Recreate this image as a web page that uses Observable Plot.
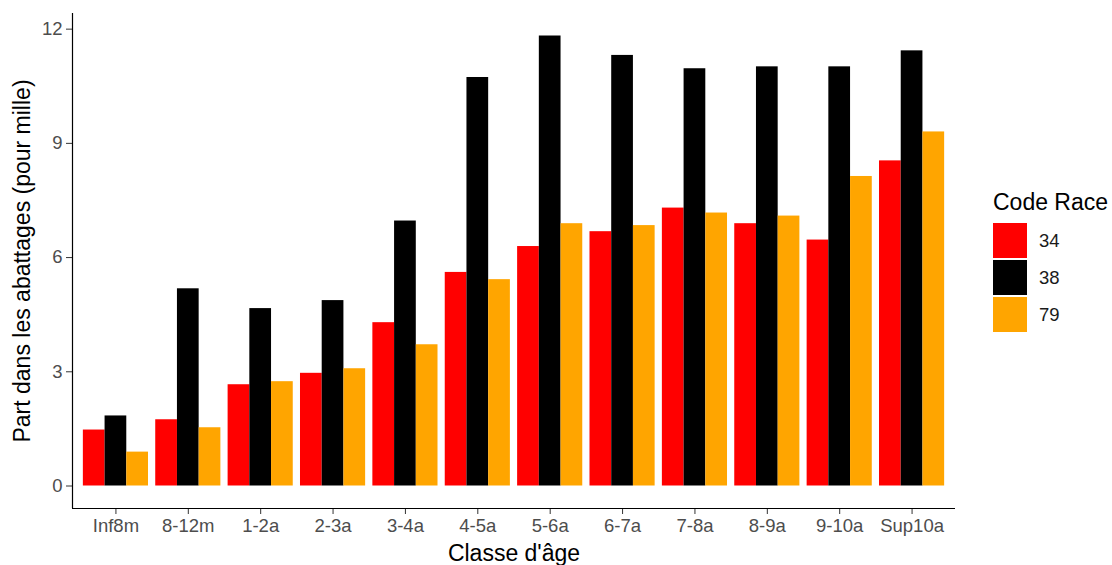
<!DOCTYPE html>
<html><head><meta charset="utf-8">
<script src="https://cdn.jsdelivr.net/npm/d3@7"></script>
<script src="https://cdn.jsdelivr.net/npm/@observablehq/plot@0.6"></script>
<style>
body{margin:0;background:#fff;font-family:"Liberation Sans",Arial,sans-serif;}
#wrap{position:relative;width:1112px;height:565px;overflow:hidden;}
#chart{position:absolute;left:0;top:0;}
#legend{position:absolute;left:993px;top:191px;}
#legend .title{font-size:23px;line-height:23px;color:#000;margin-bottom:8px;white-space:nowrap;}
#legend .row{display:flex;align-items:center;height:37px;}
#legend .sw{width:34px;height:35px;}
#legend .lab{font-size:18.5px;color:#1a1a1a;margin-left:12px;}
</style></head><body>
<div id="wrap"><div id="chart"></div><div id="legend"></div></div>
<script>
const categories = ["Inf8m","8-12m","1-2a","2-3a","3-4a","4-5a","5-6a","6-7a","7-8a","8-9a","9-10a","Sup10a"];
const races = ["34","38","79"];
const raceColors = ["#FF0000","#000000","#FFA500"];
const v34 = [1.47,1.74,2.66,2.96,4.29,5.61,6.29,6.68,7.30,6.89,6.46,8.54];
const v38 = [1.84,5.18,4.66,4.87,6.96,10.73,11.82,11.31,10.96,11.01,11.01,11.43];
const v79 = [0.89,1.53,2.74,3.08,3.71,5.42,6.89,6.84,7.17,7.09,8.13,9.30];
const yTicks = [0,3,6,9,12];
const xTitle = "Classe d'âge";
const yTitle = "Part dans les abattages (pour mille)";
const legendTitle = "Code Race";

const series = [v34, v38, v79];
const data = categories.flatMap((c, i) => races.map((r, k) => ({cat: c, i, race: r, k, value: series[k][i]})));
const font = "Liberation Sans, Arial, sans-serif";

const plot = Plot.plot({
  width: 960, height: 565,
  marginLeft: 72, marginRight: 5, marginTop: 13, marginBottom: 57,
  style: {fontFamily: font, background: "#fff"},
  x: {domain: [-0.6, categories.length - 0.4]},
  y: {domain: [-0.591, 12.411]},
  color: {domain: races, range: raceColors},
  marks: [
    Plot.rectY(data, {x1: d => d.i - 0.45 + d.k * 0.3, x2: d => d.i - 0.15 + d.k * 0.3, y1: 0, y2: "value", fill: "race"}),
    Plot.axisX(d3.range(categories.length), {tickFormat: i => categories[i], tickSize: 6, tickPadding: 4, fontSize: 18.5, fill: "#4D4D4D", stroke: "#333", label: null}),
    Plot.axisY(yTicks, {tickSize: 6, tickPadding: 4, fontSize: 18.5, fill: "#4D4D4D", stroke: "#333", label: null}),
    Plot.ruleX([-0.6], {stroke: "#000", strokeWidth: 1.2}),
    Plot.ruleY([-0.591], {stroke: "#000", strokeWidth: 1.2}),
    Plot.text([xTitle], {frameAnchor: "bottom", lineAnchor: "bottom", dy: 52, fontSize: 23, fill: "#000"}),
    Plot.text([yTitle], {frameAnchor: "left", textAnchor: "middle", lineAnchor: "middle", rotate: -90, dx: -50, fontSize: 23, fill: "#000"})
  ]
});
document.getElementById("chart").appendChild(plot);

const lg = d3.select("#legend");
lg.append("div").attr("class", "title").text(legendTitle);
races.forEach((r, k) => {
  const row = lg.append("div").attr("class", "row");
  row.append("div").attr("class", "sw").style("background", raceColors[k]);
  row.append("div").attr("class", "lab").text(r);
});
</script>
</body></html>
